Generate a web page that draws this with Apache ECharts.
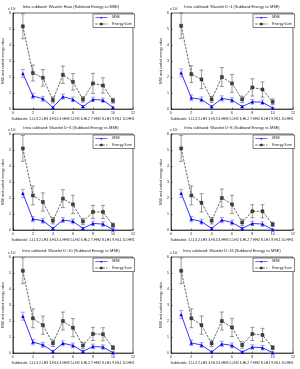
<!DOCTYPE html>
<html style="height: 100%">
<head>
<meta charset="utf-8">
</head>
<body style="height: 100%; margin: 0; background: #fff">
<div id="container" style="width: 300px; height: 369px"></div>
<script type="text/javascript" src="https://cdn.jsdelivr.net/npm/echarts@6/dist/echarts.min.js"></script>
<script type="text/javascript">

// subband index 1..10
var subbands = [1, 2, 3, 4, 5, 6, 7, 8, 9, 10];
var xLabel = 'Subbands: 1.LL3 2.LH3 3.HL3 4.HH3 5.LH2 6.HL2 7.HH2 8.LH1 9.HL1 10.HH1';
var wavelets = ['Haar', 'D\u22124', 'D\u22126', 'D\u22128', 'D\u221210', 'D\u221216'];

// values in units of 1e7
var mseHaar = [2.22, 0.81, 0.64, 0.10, 0.77, 0.60, 0.15, 0.60, 0.55, 0.10];
var mseD4   = [2.26, 0.70, 0.60, 0.15, 0.66, 0.56, 0.15, 0.45, 0.42, 0.06];
var mseD6   = [2.29, 0.68, 0.58, 0.10, 0.62, 0.54, 0.10, 0.41, 0.37, 0.02];
var mseD8   = [2.29, 0.68, 0.52, 0.10, 0.62, 0.47, 0.10, 0.41, 0.37, 0.02];
var mseD10  = [2.30, 0.68, 0.51, 0.10, 0.61, 0.47, 0.10, 0.41, 0.37, 0.02];
var mseD16  = [2.40, 0.63, 0.50, 0.06, 0.57, 0.47, 0.06, 0.37, 0.33, 0.02];

var engHaar = [5.17, 2.25, 1.95, 0.56, 2.14, 1.70, 0.60, 1.60, 1.47, 0.52];
var engD4   = [5.20, 2.18, 1.85, 0.60, 2.00, 1.60, 0.60, 1.35, 1.22, 0.45];
var engD6   = [5.10, 2.16, 1.75, 0.58, 1.96, 1.60, 0.53, 1.13, 1.13, 0.30];
var engD8   = [5.10, 2.16, 1.70, 0.58, 2.00, 1.60, 0.47, 1.17, 1.17, 0.35];
var engD10  = [5.14, 2.17, 1.74, 0.61, 2.00, 1.58, 0.47, 1.19, 1.17, 0.33];
var engD16  = [5.14, 2.17, 1.74, 0.60, 2.00, 1.60, 0.50, 1.19, 1.13, 0.33];

var mseErr  = [0.25, 0.17, 0.15, 0.06, 0.16, 0.15, 0.06, 0.14, 0.14, 0.05];
var engErrHaar = [0.78, 0.50, 0.52, 0.18, 0.54, 0.52, 0.18, 0.63, 0.48, 0.15];
var engErrD4   = [0.80, 0.52, 0.58, 0.19, 0.59, 0.56, 0.20, 0.54, 0.47, 0.18];
var engErrD6   = [0.81, 0.59, 0.57, 0.20, 0.56, 0.57, 0.20, 0.41, 0.41, 0.13];

var mseAll = [mseHaar, mseD4, mseD6, mseD8, mseD10, mseD16];
var engAll = [engHaar, engD4, engD6, engD8, engD10, engD16];
var engErrAll = [engErrHaar, engErrD4, engErrD6, engErrD6, engErrD6, engErrD6];

var font = 'Liberation Sans';
var colLeft = [9, 171], colWidth = [124, 122];
var rowTop = [13, 134, 257], rowHeight = 96;

var dom = document.getElementById('container');
var myChart = echarts.init(dom);

function errBar(color) {
    return function (params, api) {
        var x = api.value(0), y = api.value(1), e = api.value(2);
        var p1 = api.coord([x, y + e]);
        var p2 = api.coord([x, y - e]);
        var w = 2;
        var st = { stroke: color, lineWidth: 0.6 };
        return {
            type: 'group',
            children: [
                { type: 'line', shape: { x1: p1[0], y1: p1[1], x2: p2[0], y2: p2[1] }, style: st },
                { type: 'line', shape: { x1: p1[0] - w, y1: p1[1], x2: p1[0] + w, y2: p1[1] }, style: st },
                { type: 'line', shape: { x1: p2[0] - w, y1: p2[1], x2: p2[0] + w, y2: p2[1] }, style: st }
            ]
        };
    };
}

var grid = [], xAxis = [], yAxis = [], series = [], title = [], legend = [];
for (var i = 0; i < 6; i++) {
    var r = Math.floor(i / 2), c = i % 2;
    var gl = colLeft[c], gt = rowTop[r], gw = colWidth[c];
    grid.push({ left: gl, top: gt, width: gw, height: rowHeight, show: true,
        borderColor: '#000', borderWidth: 0.6, backgroundColor: '#fff' });
    xAxis.push({ gridIndex: i, type: 'value', min: 0, max: 12, interval: 2,
        name: xLabel, nameLocation: 'middle', nameGap: 8,
        nameTextStyle: { fontSize: 3.5, fontFamily: font, color: '#222' },
        axisLine: { lineStyle: { color: '#000', width: 0.6 } },
        axisTick: { inside: true, length: 1.5, lineStyle: { color: '#000', width: 0.5 } },
        axisLabel: { fontSize: 3.5, fontFamily: font, color: '#222', margin: 2 },
        splitLine: { show: false } });
    yAxis.push({ gridIndex: i, type: 'value', min: 0, max: 6, interval: 1,
        name: 'MSE and scaled energy value', nameLocation: 'middle', nameGap: 5,
        nameTextStyle: { fontSize: 3.5, fontFamily: font, color: '#222' },
        axisLine: { lineStyle: { color: '#000', width: 0.6 } },
        axisTick: { inside: true, length: 1.5, lineStyle: { color: '#000', width: 0.5 } },
        axisLabel: { fontSize: 3.5, fontFamily: font, color: '#222', margin: 2 },
        splitLine: { show: false } });
    title.push({ text: 'Intra subband: Wavelet ' + wavelets[i] + ' (Subband Energy vs MSE)',
        left: gl + gw / 2, top: gt - 8, textAlign: 'center', padding: 0,
        textStyle: { fontSize: 3.9, fontWeight: 'normal', fontFamily: font, color: '#222' } });
    title.push({ text: 'x 10\u2077', left: gl - 1, top: gt - 6, padding: 0,
        textStyle: { fontSize: 3.5, fontWeight: 'normal', fontFamily: font, color: '#222' } });
    var mse = mseAll[i], eng = engAll[i], ee = engErrAll[i];
    var mseData = [], engData = [], mseE = [], engE = [];
    for (var k = 0; k < subbands.length; k++) {
        mseData.push([subbands[k], mse[k]]);
        engData.push([subbands[k], eng[k]]);
        mseE.push([subbands[k], mse[k], mseErr[k]]);
        engE.push([subbands[k], eng[k], ee[k]]);
    }
    series.push({ type: 'custom', xAxisIndex: i, yAxisIndex: i, data: engE, silent: true,
        renderItem: errBar('#555'), z: 1 });
    series.push({ type: 'custom', xAxisIndex: i, yAxisIndex: i, data: mseE, silent: true,
        renderItem: errBar('#6a6ad8'), z: 1 });
    series.push({ name: 'MSE', type: 'line', xAxisIndex: i, yAxisIndex: i, data: mseData,
        symbol: 'triangle', symbolSize: 3.5, z: 3,
        lineStyle: { color: '#0000ff', width: 0.8 }, itemStyle: { color: '#0000ff' } });
    series.push({ name: 'Energy Sum', type: 'line', xAxisIndex: i, yAxisIndex: i, data: engData,
        symbol: 'rect', symbolSize: 3, z: 3,
        lineStyle: { color: '#000', width: 0.6, type: 'dashed' },
        itemStyle: { color: '#444', borderColor: '#000', borderWidth: 0.4 } });
    legend.push({ data: ['MSE', 'Energy Sum'], orient: 'vertical',
        left: gl + gw - 40, top: gt + 1,
        itemWidth: 12, itemHeight: 2.5, itemGap: 2.5, padding: [1.5, 3, 1.5, 2],
        borderColor: '#000', borderWidth: 0.5, backgroundColor: '#fff',
        lineStyle: { width: 0.6 },
        itemStyle: { borderWidth: 0.4 },
        textStyle: { fontSize: 3.5, fontFamily: font, color: '#222' } });
}

var option = {
    backgroundColor: '#fff',
    animation: false,
    title: title,
    legend: legend,
    grid: grid,
    xAxis: xAxis,
    yAxis: yAxis,
    series: series
};
myChart.setOption(option);

window.onresize = function () {
    myChart.resize();
};
</script>
</body>
</html>
